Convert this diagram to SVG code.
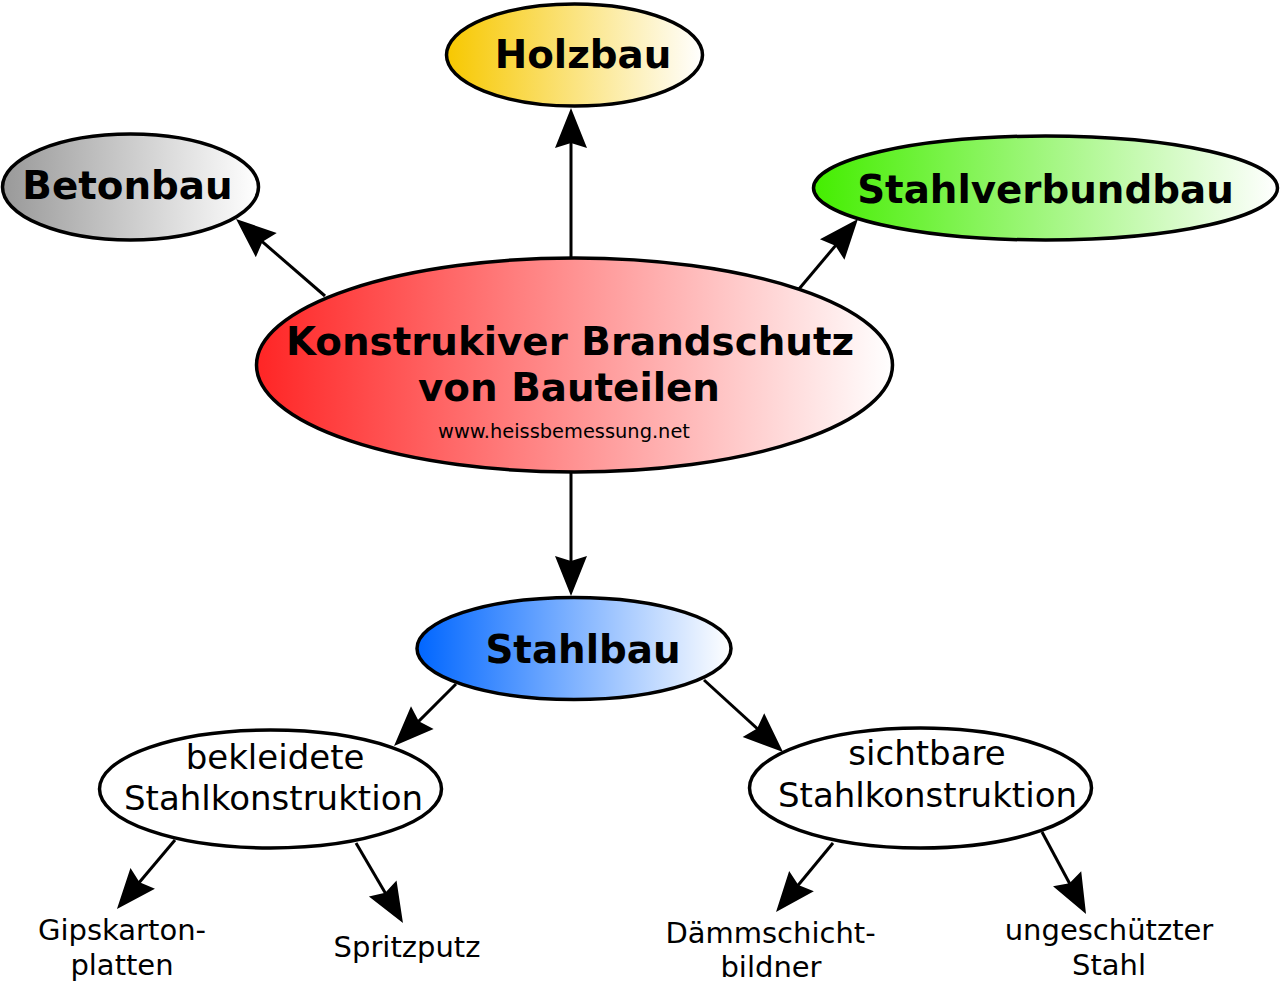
<svg xmlns="http://www.w3.org/2000/svg" width="1280" height="982" viewBox="0 0 1280 982">
<style>
.node{stroke:#000;stroke-width:3.5}
.b{font-family:"DejaVu Sans","Liberation Sans",sans-serif;font-weight:bold;font-size:38.8px;fill:#000;text-anchor:middle}
.r{font-family:"DejaVu Sans","Liberation Sans",sans-serif;font-size:34px;fill:#000;text-anchor:middle}
.l{font-family:"DejaVu Sans","Liberation Sans",sans-serif;font-size:29px;fill:#000;text-anchor:middle}
.u{font-family:"DejaVu Sans","Liberation Sans",sans-serif;font-size:19.4px;fill:#000;text-anchor:middle}
.c{stroke:#000;stroke-width:3;fill:none;marker-end:url(#ah)}
</style>
<defs>
<linearGradient id="gRed" x1="0" y1="0" x2="1" y2="0"><stop offset="0" stop-color="#ff2525"/><stop offset="1" stop-color="#ffffff"/></linearGradient>
<linearGradient id="gGray" x1="0" y1="0" x2="1" y2="0"><stop offset="0" stop-color="#999999"/><stop offset="1" stop-color="#ffffff"/></linearGradient>
<linearGradient id="gGold" x1="0" y1="0" x2="1" y2="0"><stop offset="0" stop-color="#f7c800"/><stop offset="1" stop-color="#ffffff"/></linearGradient>
<linearGradient id="gGreen" x1="0" y1="0" x2="1" y2="0"><stop offset="0" stop-color="#44ee00"/><stop offset="1" stop-color="#ffffff"/></linearGradient>
<linearGradient id="gBlue" x1="0" y1="0" x2="1" y2="0"><stop offset="0" stop-color="#0066ff"/><stop offset="1" stop-color="#ffffff"/></linearGradient>
<marker id="ah" markerUnits="userSpaceOnUse" orient="auto" refX="0" refY="0" viewBox="-32 -17 44 34" markerWidth="44" markerHeight="34">
<path d="M10,0 L-30,-16 L-25,0 L-30,16 Z" fill="#000"/>
</marker>
</defs>
<g id="connectors">
<line class="c" x1="325" y1="296" x2="243.6" y2="225.5"/>
<line class="c" x1="571" y1="258" x2="571" y2="118"/>
<line class="c" x1="799" y1="289" x2="851.5" y2="226.6"/>
<line class="c" x1="571" y1="472" x2="571" y2="586"/>
<line class="c" x1="456" y1="684" x2="401.1" y2="738.9"/>
<line class="c" x1="704" y1="680" x2="775.6" y2="745.3"/>
<line class="c" x1="175" y1="840" x2="123.4" y2="901.3"/>
<line class="c" x1="356" y1="843" x2="397.9" y2="914.4"/>
<line class="c" x1="833" y1="843" x2="782.4" y2="904.3"/>
<line class="c" x1="1042" y1="832" x2="1081.3" y2="905.2"/>
</g>
<g id="center">
<ellipse class="node" cx="574.5" cy="365" rx="318" ry="107" fill="url(#gRed)"/>
<text class="b" x="570" y="355">Konstrukiver Brandschutz</text>
<text class="b" x="569" y="401">von Bauteilen</text>
<text class="u" x="564" y="438">www.heissbemessung.net</text>
</g>
<g id="betonbau">
<ellipse class="node" cx="130.5" cy="187" rx="128" ry="53" fill="url(#gGray)"/>
<text class="b" x="127.5" y="199">Betonbau</text>
</g>
<g id="holzbau">
<ellipse class="node" cx="574.5" cy="55" rx="128" ry="51" fill="url(#gGold)"/>
<text class="b" x="583" y="68">Holzbau</text>
</g>
<g id="stahlverbundbau">
<ellipse class="node" cx="1045.5" cy="188" rx="232" ry="52" fill="url(#gGreen)"/>
<text class="b" x="1045.5" y="203">Stahlverbundbau</text>
</g>
<g id="stahlbau">
<ellipse class="node" cx="574" cy="648.5" rx="157" ry="51" fill="url(#gBlue)"/>
<text class="b" x="583" y="663">Stahlbau</text>
</g>
<g id="bekleidete">
<ellipse class="node" cx="270.5" cy="789" rx="171" ry="59" fill="#fff"/>
<text class="r" x="275" y="769">bekleidete</text>
<text class="r" x="273.5" y="810">Stahlkonstruktion</text>
</g>
<g id="sichtbare">
<ellipse class="node" cx="920.5" cy="788" rx="171" ry="60" fill="#fff"/>
<text class="r" x="927" y="765">sichtbare</text>
<text class="r" x="927.5" y="807">Stahlkonstruktion</text>
</g>
<g id="gipskarton">
<text class="l" x="122" y="940">Gipskarton-</text>
<text class="l" x="122" y="975">platten</text>
</g>
<g id="spritzputz">
<text class="l" x="407" y="957">Spritzputz</text>
</g>
<g id="daemmschicht">
<text class="l" x="770.5" y="943">Dämmschicht-</text>
<text class="l" x="771" y="977">bildner</text>
</g>
<g id="ungeschuetzt">
<text class="l" x="1109" y="940">ungeschützter</text>
<text class="l" x="1109" y="975">Stahl</text>
</g>
</svg>
